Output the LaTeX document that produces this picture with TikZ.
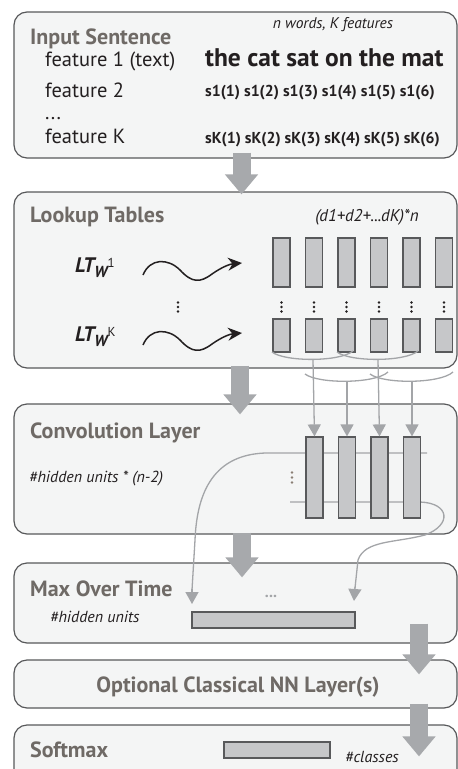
\documentclass[tikz,border=0pt]{standalone}
\usepackage{fontspec}
\setmainfont{PT Sans}
\usetikzlibrary{arrows.meta}
\definecolor{boxfill}{HTML}{F4F5F5}
\definecolor{boxline}{HTML}{58595B}
\definecolor{headcol}{HTML}{6F6A66}
\definecolor{inkcol}{HTML}{231F20}
\definecolor{cellfill}{HTML}{C6C7C9}
\definecolor{linkcol}{HTML}{A3A5A8}
\definecolor{fatcol}{HTML}{A7A9AC}
\definecolor{dotcol}{HTML}{8A7E74}
\tikzset{
  layer/.style={draw=boxline, line width=1.2pt, fill=boxfill, rounded corners=13pt,
    minimum width=443pt, inner sep=0pt},
  head/.style={anchor=base west, text=headcol, inner sep=0pt,
    font=\fontsize{22}{24}\selectfont\bfseries},
  feat/.style={anchor=base west, text=inkcol, inner sep=0pt,
    font=\fontsize{20.5}{22}\selectfont},
  code/.style={anchor=base west, text=inkcol, inner sep=0pt,
    font=\fontsize{15.8}{17}\selectfont\bfseries},
  note/.style={text=inkcol, inner sep=0pt, font=\fontsize{15.5}{17}\selectfont\itshape},
  ltlab/.style={anchor=base west, text=inkcol, inner sep=0pt,
    font=\fontsize{21}{22}\selectfont\bfseries\itshape},
  cell/.style={draw=boxline, line width=1.2pt, fill=cellfill, inner sep=0pt,
    minimum width=17pt},
  link/.style={draw=linkcol, line width=1.3pt},
  linkarrow/.style={link, -{Triangle[width=13pt,length=12pt]}},
  fatarrow/.style={draw=fatcol, line width=18pt, -{Triangle[width=32pt,length=20pt]}},
  squiggle/.style={draw=inkcol, line width=1.5pt, -{Stealth[width=13pt,length=14pt]}}
}
\begin{document}
\begin{tikzpicture}[x=1pt, y=-1pt]
  \useasboundingbox (0,0) rectangle (458,769);

  % layers
  \node[layer, minimum height=146pt] (inp)  at (235.5,85)    {};
  \node[layer, minimum height=176pt] (look) at (235.5,280)   {};
  \node[layer, minimum height=130pt] (conv) at (235.5,469)   {};
  \node[layer, minimum height=80pt]  (maxt) at (235.5,603)   {};
  \node[layer, minimum height=48pt]  (optl) at (235.5,684)   {};
  \node[layer, minimum height=65pt]  (soft) at (235.5,757.5) {};

  % input sentence
  \node[head] (inptitle) at (30,44) {Input Sentence};
  \node[note, anchor=base] (inpnote) at (333,28) {n words, K features};
  \node[feat] (f1) at (45,66)  {feature 1 (text)};
  \node[feat] (f2) at (45,97)  {feature 2};
  \node[feat] (fdots) at (45,119) {...};
  \node[feat] (fk) at (45,143) {feature K};
  \node[anchor=base west, text=inkcol, inner sep=0pt,
    font=\fontsize{25.5}{27}\selectfont\bfseries] (w1) at (205,66) {the cat sat on the mat};
  \node[code] (s1) at (205,96)  {s1(1) s1(2) s1(3) s1(4) s1(5) s1(6)};
  \node[code] (sk) at (205,143) {sK(1) sK(2) sK(3) sK(4) sK(5) sK(6)};

  % lookup tables
  \node[head] (looktitle) at (30,222) {Lookup Tables};
  \node[note, anchor=base, font=\fontsize{17}{18}\selectfont\itshape] (looknote) at (367,221) {(d1+d2+...dK)*n};
  \node[ltlab] (lt1) at (75,272)
    {LT\raisebox{-5pt}{\fontsize{16}{16}\selectfont W\raisebox{10pt}{\fontsize{13}{13}\selectfont\upshape\mdseries 1}}};
  \node[ltlab] (ltk) at (75,341)
    {LT\raisebox{-5pt}{\fontsize{16}{16}\selectfont W\raisebox{10pt}{\fontsize{13}{13}\selectfont\upshape\mdseries K}}};
  \draw[squiggle] (143,275) .. controls (150,258) and (168,258) .. (180,270)
    .. controls (192,283) and (200,283) .. (212,274)
    .. controls (222,267) and (230,264) .. (242,263);
  \draw[squiggle] (143,345) .. controls (150,328) and (168,328) .. (180,340)
    .. controls (192,353) and (200,353) .. (212,344)
    .. controls (222,337) and (230,334) .. (242,333);
  \foreach \dy in {-4.5,0,4.5}
    \fill[inkcol] (178,307+\dy) circle (1.4pt);
  \foreach \i in {1,...,6} {
    \node[cell, minimum height=49pt] (up\i) at ({281.5+32.5*(\i-1)},262.5) {};
    \node[cell, minimum height=33pt] (lo\i) at ({281.5+32.5*(\i-1)},335.5) {};
    \foreach \dy in {-4.5,0,4.5}
      \fill[inkcol] ({281.5+32.5*(\i-1)},307+\dy) circle (1.4pt);
  }

  % windows of three words
  \draw[link] (272,352) .. controls (285,362) and (340,362) .. (353,351);
  \draw[link] (337,352) .. controls (350,362) and (405,362) .. (418,351);
  \draw[link] (305,374) .. controls (318,384) and (375,384) .. (388,372);
  \draw[link] (370,374) .. controls (383,384) and (440,384) .. (453,372);
  \coordinate (win1) at (313,360);
  \coordinate (win2) at (347,382);
  \coordinate (win3) at (378,360);
  \coordinate (win4) at (412,382);

  % convolution layer
  \node[head] (convtitle) at (30,438) {Convolution Layer};
  \node[note, anchor=base west, font=\fontsize{16}{17}\selectfont\itshape] (convnote) at (29,482)
    {\#hidden units * (n-2)};
  \draw[link] (427,453) -- (306,453) -- (265,453)
    .. controls (215,455) and (197,490) .. (195,540) -- (192,590);
  \draw[link] (290,502) -- (420,502)
    .. controls (450,503) and (452,525) .. (425,535)
    .. controls (395,543) and (365,540) .. (358,560) -- (355,588);
  \foreach \i in {1,...,4}
    \node[cell, minimum height=81pt] (cv\i) at ({314.5+32.5*(\i-1)},477.5) {};
  \foreach \i in {1,...,4}
    \draw[linkarrow] (win\i) -- (cv\i.north);
  \foreach \dy in {-5,0,5}
    \fill[dotcol] (292,477.5+\dy) circle (1.4pt);

  % max over time
  \node[head] (maxtitle) at (30,596) {Max Over Time};
  \node[note, anchor=base west, font=\fontsize{16}{17}\selectfont\itshape] (maxnote) at (50,622)
    {\#hidden units};
  \node[text=linkcol, inner sep=0pt, font=\fontsize{16}{16}\selectfont\bfseries] (maxdots) at (271,596) {...};
  \node[cell, minimum width=163pt, minimum height=16pt] (maxvec) at (273.5,620) {};
  \draw[linkarrow] (192,589) -- (192,604);
  \draw[linkarrow] (355,587) -- (354,601);

  % optional layer and softmax
  \node[head, anchor=base] (opttitle) at (238,692) {Optional Classical NN Layer(s)};
  \node[head] (softtitle) at (30,757) {Softmax};
  \node[cell, minimum width=106pt, minimum height=16pt] (softvec) at (277,750) {};
  \node[note, anchor=base west, font=\fontsize{16}{17}\selectfont\itshape] (softnote) at (345,762)
    {\#classes};

  % flow between layers
  \draw[fatarrow] ([xshift=6pt,yshift=6pt]inp.south) -- ([xshift=6pt,yshift=-3pt]look.north);
  \draw[fatarrow] ([xshift=4.5pt,yshift=3pt]look.south) -- ([xshift=4.5pt,yshift=-11pt]conv.north);
  \draw[fatarrow] ([xshift=6.5pt,yshift=2pt]conv.south) -- ([xshift=6.5pt,yshift=-15pt]maxt.north);
  \draw[fatarrow] ([xshift=183.5pt,yshift=20pt]maxt.south) -- ([xshift=183.5pt,yshift=-15pt]optl.north);
  \draw[fatarrow] ([xshift=183.5pt,yshift=5pt]optl.south) -- ([xshift=183.5pt,yshift=-32pt]soft.north);
\end{tikzpicture}
\end{document}
